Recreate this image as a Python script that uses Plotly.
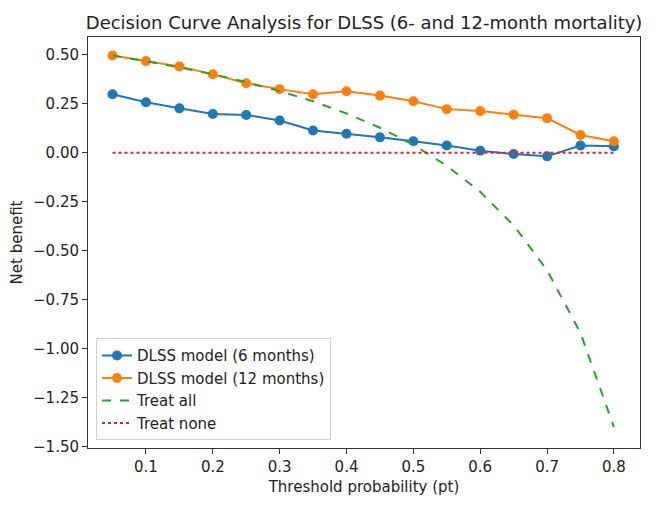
import plotly.graph_objects as go

thresholds = [0.05, 0.10, 0.15, 0.20, 0.25, 0.30, 0.35, 0.40, 0.45, 0.50, 0.55, 0.60, 0.65, 0.70, 0.75, 0.80]
nb_6m = [0.298, 0.257, 0.226, 0.197, 0.192, 0.164, 0.113, 0.096, 0.078, 0.058, 0.036, 0.010, -0.007, -0.019, 0.036, 0.032]
nb_12m = [0.496, 0.467, 0.440, 0.400, 0.354, 0.324, 0.298, 0.313, 0.291, 0.262, 0.222, 0.212, 0.193, 0.176, 0.090, 0.058]
nb_all = [0.495, 0.467, 0.435, 0.400, 0.360, 0.314, 0.262, 0.200, 0.127, 0.040, -0.067, -0.200, -0.371, -0.600, -0.920, -1.400]
nb_none = [0.0] * len(thresholds)

xticks = [0.1, 0.2, 0.3, 0.4, 0.5, 0.6, 0.7, 0.8]
yticks = [0.5, 0.25, 0.0, -0.25, -0.5, -0.75, -1.0, -1.25, -1.5]
ytick_text = ["0.50", "0.25", "0.00", "\u22120.25", "\u22120.50", "\u22120.75", "\u22121.00", "\u22121.25", "\u22121.50"]

FONT = "DejaVu Sans"
TXT = "#222222"

fig = go.Figure()
fig.add_trace(go.Scatter(x=thresholds, y=nb_6m, mode="lines+markers", name="DLSS model (6 months)",
                         line=dict(color="#1f77b4", width=2), marker=dict(size=10, color="#1f77b4")))
fig.add_trace(go.Scatter(x=thresholds, y=nb_12m, mode="lines+markers", name="DLSS model (12 months)",
                         line=dict(color="#ff7f0e", width=2), marker=dict(size=10, color="#ff7f0e")))
fig.add_trace(go.Scatter(x=thresholds, y=nb_all, mode="lines", name="Treat all",
                         line=dict(color="#2ca02c", width=2, dash="dash")))
fig.add_trace(go.Scatter(x=thresholds, y=nb_none, mode="lines", name="Treat none",
                         line=dict(color="#d62728", width=2, dash="dot")))

axis_common = dict(showgrid=False, zeroline=False, showline=True, linecolor="#333333", linewidth=1,
                   mirror=True, ticks="outside", ticklen=5, tickcolor="#333333", tickwidth=1,
                   tickfont=dict(family=FONT, size=15, color=TXT))

fig.update_layout(
    width=656, height=507,
    margin=dict(l=88, r=16, t=37, b=59),
    paper_bgcolor="white", plot_bgcolor="white",
    font=dict(family=FONT, color=TXT),
    title=dict(text="Decision Curve Analysis for DLSS (6- and 12-month mortality)",
               x=0.555, xanchor="center", y=0.942, yanchor="bottom",
               font=dict(family=FONT, size=18, color=TXT)),
    xaxis=dict(range=[0.0133, 0.839], tickvals=xticks, ticktext=[f"{v:.1f}" for v in xticks],
               title=dict(text="Threshold probability (pt)", font=dict(family=FONT, size=15, color=TXT), standoff=6),
               **axis_common),
    yaxis=dict(range=[-1.507, 0.59], tickvals=yticks, ticktext=ytick_text,
               title=dict(text="Net benefit", font=dict(family=FONT, size=15, color=TXT), standoff=6),
               **axis_common),
    legend=dict(x=0.0145, y=0.019, xanchor="left", yanchor="bottom",
                bgcolor="rgba(255,255,255,0.8)", bordercolor="#d0d0d0", borderwidth=1,
                font=dict(family=FONT, size=15, color=TXT)),
    showlegend=True,
)

fig.write_html("out.html")
